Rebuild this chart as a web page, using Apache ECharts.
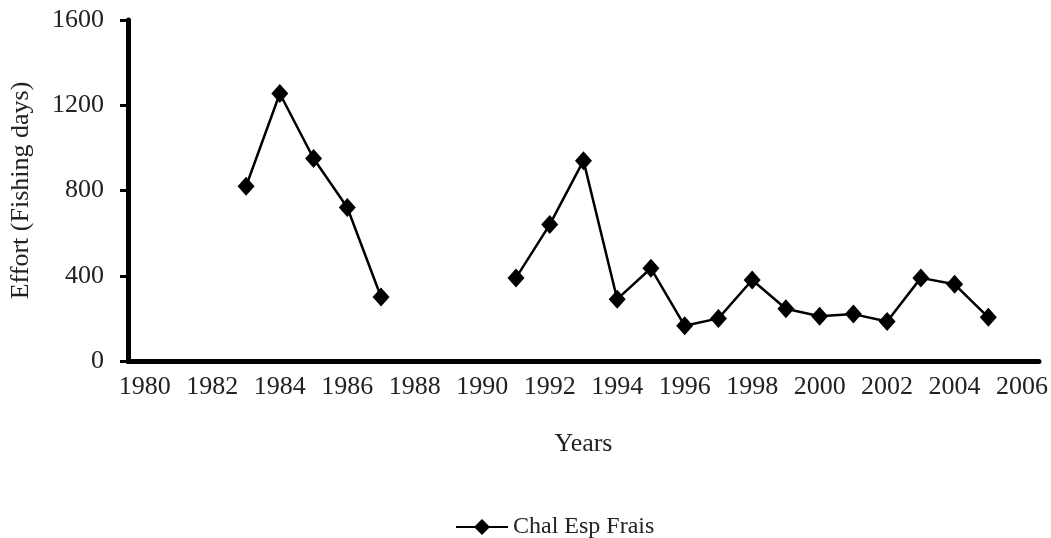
<!DOCTYPE html>
<html>
<head>
<meta charset="utf-8">
<script src="https://cdn.jsdelivr.net/npm/echarts@6/dist/echarts.min.js"></script>
<style>
  html, body { margin: 0; padding: 0; background: #fff; }
  #chart { width: 1051px; height: 538px; }
</style>
</head>
<body>
<div id="chart"></div>
<script>
// years on the category axis
var years = [
  "1980", "1981", "1982", "1983", "1984", "1985", "1986", "1987", "1988",
  "1989", "1990", "1991", "1992", "1993", "1994", "1995", "1996", "1997",
  "1998", "1999", "2000", "2001", "2002", "2003", "2004", "2005", "2006"
];
// effort (fishing days), null = no data
var effort = [
  null, null, null, 820, 1255, 950, 720, 300, null,
  null, null, 390, 640, 940, 290, 435, 165, 200,
  380, 245, 210, 220, 185, 390, 360, 205, null
];
var yTicks = [0, 400, 800, 1200, 1600];

var font = '"Liberation Serif", "Times New Roman", serif';
var myChart = echarts.init(document.getElementById("chart"));

myChart.setOption({
  animation: false,
  textStyle: { fontFamily: font, color: "#222" },
  grid: { left: 125, right: 11, top: 20, bottom: 177 },
  legend: {
    data: ["Chal Esp Frais"],
    left: 450,
    top: 510,
    itemWidth: 52,
    itemHeight: 20,
    itemGap: 8,
    textStyle: { fontFamily: font, fontSize: 24, color: "#222" }
  },
  xAxis: {
    type: "category",
    data: years,
    name: "Years",
    nameLocation: "middle",
    nameGap: 70,
    nameTextStyle: { fontFamily: font, fontSize: 26, color: "#222" },
    axisLine: { lineStyle: { color: "#000", width: 5 } },
    axisTick: { interval: 0, length: 7, lineStyle: { color: "#000", width: 3 } },
    axisLabel: { interval: 1, margin: 13, fontFamily: font, fontSize: 26, color: "#222" },
    splitLine: { show: false }
  },
  yAxis: {
    type: "value",
    min: yTicks[0],
    max: yTicks[yTicks.length - 1],
    interval: 400,
    name: "Effort (Fishing days)",
    nameLocation: "middle",
    nameGap: 94,
    nameTextStyle: { fontFamily: font, fontSize: 26, color: "#222" },
    axisLine: { show: true, lineStyle: { color: "#000", width: 5 } },
    axisTick: { show: true, length: 8, lineStyle: { color: "#000", width: 3 } },
    axisLabel: {
      margin: 24,
      fontFamily: font,
      fontSize: 26,
      color: "#222",
      formatter: function (v) { return String(v); }
    },
    splitLine: { show: false }
  },
  series: [
    {
      name: "Chal Esp Frais",
      type: "line",
      data: effort,
      connectNulls: false,
      symbol: "diamond",
      symbolSize: [17, 19],
      itemStyle: { color: "#000" },
      lineStyle: { color: "#000", width: 2.5 }
    }
  ]
});
</script>
</body>
</html>
